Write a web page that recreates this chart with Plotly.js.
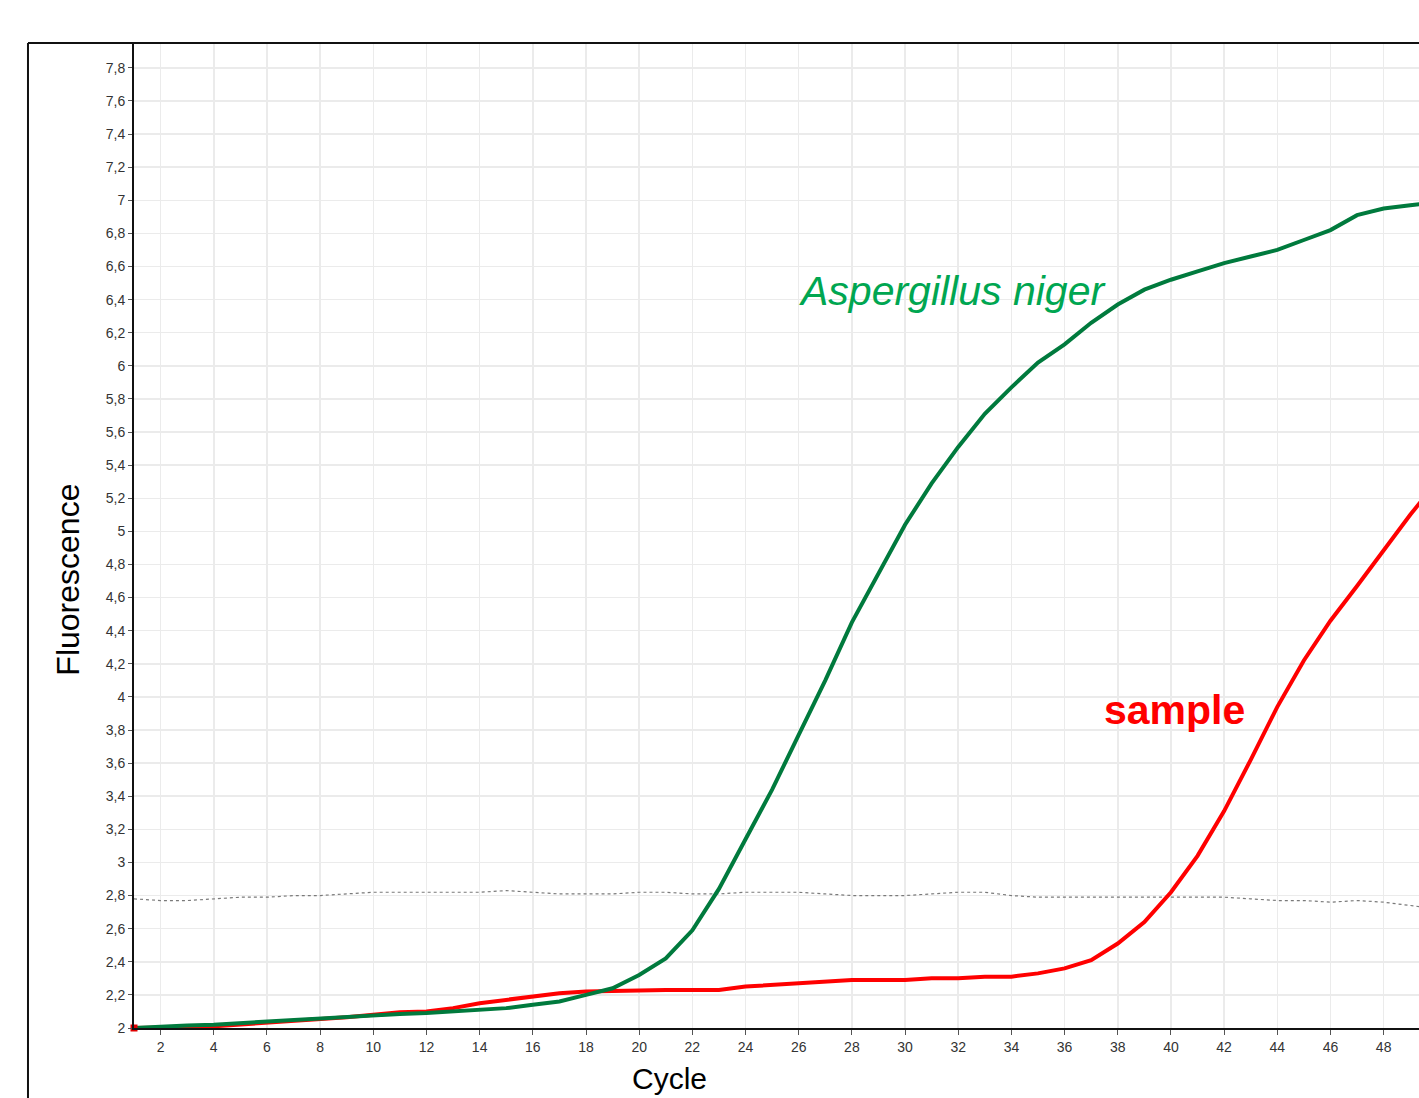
<!DOCTYPE html>
<html>
<head>
<meta charset="utf-8">
<script src="https://cdn.plot.ly/plotly-3.0.1.min.js"></script>
<style>html,body{margin:0;padding:0;overflow:hidden;background:#fff;}</style>
</head>
<body>
<div id="chart" style="width:1419px;height:1098px;"></div>
<script>
const cycles = [1,2,3,4,5,6,7,8,9,10,11,12,13,14,15,16,17,18,19,20,21,22,23,24,25,26,27,28,29,30,31,32,33,34,35,36,37,38,39,40,41,42,43,44,45,46,47,48,49,50];
const aspergillus = [2.00,2.01,2.015,2.02,2.03,2.04,2.05,2.06,2.07,2.08,2.085,2.09,2.10,2.11,2.12,2.14,2.16,2.20,2.24,2.32,2.42,2.59,2.84,3.14,3.44,3.77,4.10,4.45,4.75,5.04,5.29,5.51,5.71,5.87,6.02,6.13,6.26,6.37,6.46,6.52,6.57,6.62,6.66,6.70,6.76,6.82,6.91,6.95,6.97,6.99];
const sample = [2.00,2.00,2.005,2.01,2.02,2.03,2.04,2.05,2.065,2.08,2.095,2.10,2.12,2.15,2.17,2.19,2.21,2.22,2.225,2.23,2.23,2.23,2.23,2.25,2.26,2.27,2.28,2.29,2.29,2.29,2.30,2.30,2.31,2.31,2.33,2.36,2.41,2.51,2.64,2.82,3.04,3.31,3.62,3.94,4.22,4.46,4.67,4.89,5.10,5.30];
const threshold = [2.78,2.77,2.77,2.78,2.79,2.79,2.80,2.80,2.81,2.82,2.82,2.82,2.82,2.82,2.83,2.82,2.81,2.81,2.81,2.82,2.82,2.81,2.81,2.82,2.82,2.82,2.81,2.80,2.80,2.80,2.81,2.82,2.82,2.80,2.79,2.79,2.79,2.79,2.79,2.79,2.79,2.79,2.78,2.77,2.77,2.76,2.77,2.76,2.74,2.72];
const seriesNames = ["Aspergillus niger","sample","threshold"];

const traces = [
  {x: cycles, y: threshold, name: seriesNames[2], mode: 'lines', line: {color: '#7a7a7a', width: 1.2, dash: 'dot'}},
  {x: cycles, y: sample, name: seriesNames[1], mode: 'lines', line: {color: '#ff0000', width: 4}},
  {x: cycles, y: aspergillus, name: seriesNames[0], mode: 'lines', line: {color: '#007a3d', width: 4}},
  {x: [cycles[0]], y: [sample[0]], mode: 'markers', marker: {color: '#e00000', size: 7, symbol: 'square'}, cliponaxis: false}
];

const layout = {
  width: 1419, height: 1098,
  margin: {l: 134, r: 0, t: 43, b: 70},
  paper_bgcolor: '#ffffff', plot_bgcolor: '#ffffff',
  showlegend: false,
  separators: ', ',
  font: {family: 'Liberation Sans, Arial, sans-serif', color: '#333'},
  xaxis: {
    range: [1, 49.33], tick0: 0, dtick: 2,
    showgrid: true, gridcolor: '#ebebeb', gridwidth: 1.5,
    zeroline: false, showline: true, linecolor: '#111', linewidth: 2,
    ticks: 'outside', ticklen: 5, tickcolor: '#555',
    tickfont: {size: 14, color: '#333'}
  },
  yaxis: {
    range: [2, 7.95], tick0: 2, dtick: 0.2,
    showgrid: true, gridcolor: '#ebebeb', gridwidth: 1.5,
    zeroline: false, showline: true, linecolor: '#111', linewidth: 2,
    ticks: 'outside', ticklen: 4, tickcolor: '#555',
    tickfont: {size: 14, color: '#333'}
  },
  shapes: [
    {type: 'line', xref: 'paper', yref: 'paper', x0: -0.0825, x1: 1.01, y0: 1, y1: 1, line: {color: '#111', width: 2}},
    {type: 'line', xref: 'paper', yref: 'paper', x0: -0.0825, x1: -0.0825, y0: 1, y1: -0.2, line: {color: '#111', width: 2}}
  ],
  annotations: [
    {text: 'Aspergillus niger', xref: 'x', yref: 'y', x: 25.9, y: 6.45, xanchor: 'left', yanchor: 'middle', showarrow: false,
     font: {size: 41, color: '#00a651', family: 'Liberation Sans, Arial, sans-serif', style: 'italic'}},
    {text: '<b>sample</b>', xref: 'x', yref: 'y', x: 37.4, y: 3.92, xanchor: 'left', yanchor: 'middle', showarrow: false,
     font: {size: 41, color: '#ff0000', family: 'Liberation Sans, Arial, sans-serif'}},
    {text: 'Fluorescence', xref: 'paper', yref: 'paper', x: -0.0515, y: 0.455, xanchor: 'center', yanchor: 'middle', textangle: -90, showarrow: false,
     font: {size: 32, color: '#000', family: 'Liberation Sans, Arial, sans-serif'}},
    {text: 'Cycle', xref: 'paper', yref: 'paper', x: 0.417, y: -0.051, xanchor: 'center', yanchor: 'middle', showarrow: false,
     font: {size: 30, color: '#000', family: 'Liberation Sans, Arial, sans-serif'}}
  ]
};

Plotly.newPlot('chart', traces, layout, {displayModeBar: false, staticPlot: true});
</script>
</body>
</html>
